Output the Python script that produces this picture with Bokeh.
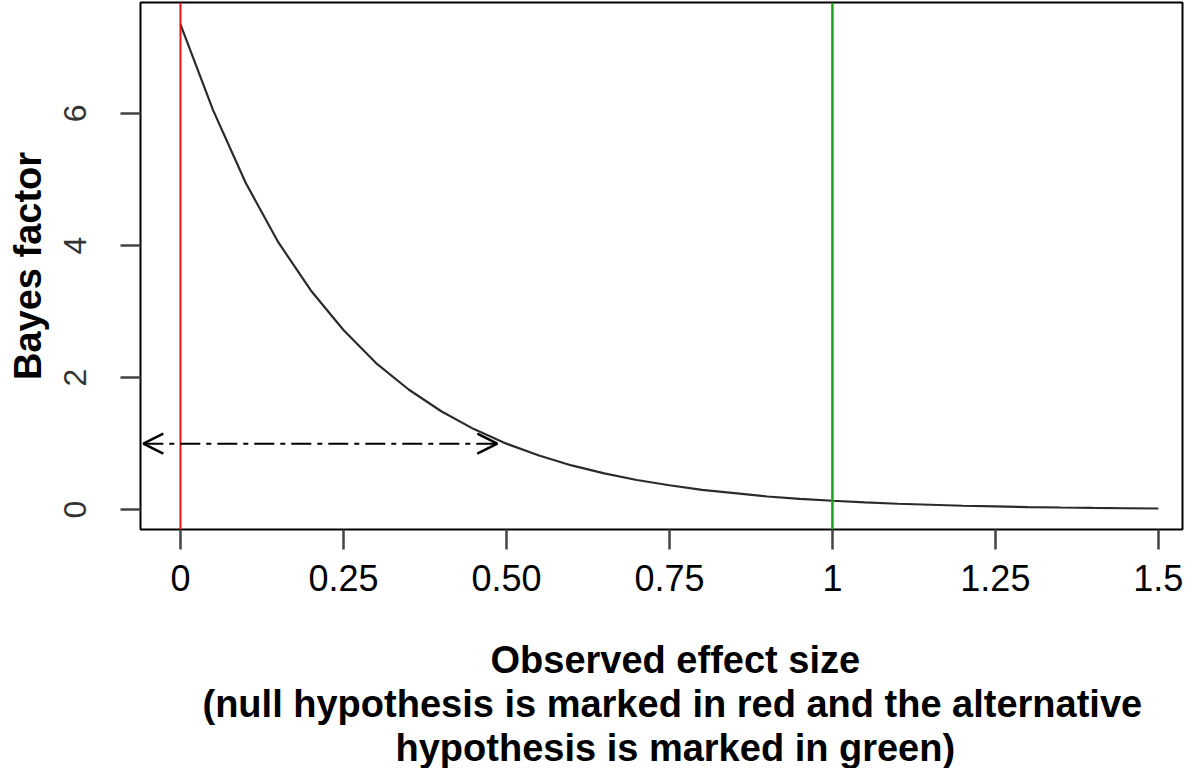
from bokeh.plotting import figure
from bokeh.models import Span, Arrow, OpenHead, FixedTicker, Title, Range1d
from bokeh.embed import file_html
from bokeh.resources import INLINE

# ---- data ----
effect_size = [0.00, 0.05, 0.10, 0.15, 0.20, 0.25, 0.30, 0.35, 0.40, 0.45, 0.50,
               0.55, 0.60, 0.65, 0.70, 0.75, 0.80, 0.85, 0.90, 0.95, 1.00,
               1.05, 1.10, 1.15, 1.20, 1.25, 1.30, 1.35, 1.40, 1.45, 1.50]
bayes_factor = [7.35, 6.05, 4.95, 4.05, 3.32, 2.72, 2.22, 1.82, 1.49, 1.22, 1.00,
                0.82, 0.67, 0.55, 0.45, 0.37, 0.30, 0.25, 0.20, 0.165, 0.135,
                0.11, 0.09, 0.075, 0.06, 0.05, 0.04, 0.033, 0.027, 0.022, 0.018]
null_hypothesis = 0.0
alt_hypothesis = 1.0
arrow_x = [-0.057, 0.486]
arrow_level = 1.0
x_ticks = [0, 0.25, 0.5, 0.75, 1.0, 1.25, 1.5]
x_tick_labels = ["0", "0.25", "0.50", "0.75", "1", "1.25", "1.5"]
y_ticks = [0, 2, 4, 6]
y_tick_labels = ["0", "2", "4", "6"]
y_label = "Bayes factor"
x_label_lines = ["Observed effect size",
                 "(null hypothesis is marked in red and the alternative",
                 "hypothesis is marked in green)"]

FONT = "Liberation Sans, Arial, Helvetica, sans-serif"

p = figure(width=1184, height=768, output_backend="svg", toolbar_location=None,
           x_range=Range1d(-0.0613, 1.537), y_range=Range1d(-0.30, 7.68),
           min_border_left=140, min_border_right=2, min_border_top=2,
           min_border_bottom=239)

p.background_fill_color = "white"
p.border_fill_color = "white"
p.outline_line_color = "black"
p.outline_line_width = 2
p.grid.visible = False

# curve
p.line(effect_size, bayes_factor, line_color="#2b2b2b", line_width=2.2)

# hypotheses
p.add_layout(Span(location=null_hypothesis, dimension="height",
                  line_color="#ee1111", line_width=2))
p.add_layout(Span(location=alt_hypothesis, dimension="height",
                  line_color="#1e9e1e", line_width=2.5))

# double arrow
p.add_layout(Arrow(start=OpenHead(size=20, line_color="black", line_width=2.5),
                   end=OpenHead(size=20, line_color="black", line_width=2.5),
                   x_start=arrow_x[0], y_start=arrow_level,
                   x_end=arrow_x[1], y_end=arrow_level,
                   line_color="black", line_width=2, line_dash="20 6 5 6"))

# x axis
xa = p.xaxis[0]
xa.ticker = FixedTicker(ticks=x_ticks)
xa.major_label_overrides = {t: l for t, l in zip(x_ticks, x_tick_labels)}
xa.axis_line_color = None
xa.major_tick_out = 20
xa.major_tick_in = 0
xa.major_tick_line_color = "#444444"
xa.major_tick_line_width = 2.5
xa.minor_tick_line_color = None
xa.major_label_text_font = FONT
xa.major_label_text_font_size = "36px"
xa.major_label_text_color = "black"
xa.major_label_standoff = 15

# y axis
ya = p.yaxis[0]
ya.ticker = FixedTicker(ticks=y_ticks)
ya.major_label_overrides = {t: l for t, l in zip(y_ticks, y_tick_labels)}
ya.axis_line_color = None
ya.major_tick_out = 20
ya.major_tick_in = 0
ya.major_tick_line_color = "#444444"
ya.major_tick_line_width = 2.5
ya.minor_tick_line_color = None
ya.major_label_orientation = "parallel"
ya.major_label_text_font = FONT
ya.major_label_text_font_size = "32px"
ya.major_label_text_color = "#333333"
ya.major_label_standoff = 34
ya.axis_label = y_label
ya.axis_label_text_font = FONT
ya.axis_label_text_font_size = "38px"
ya.axis_label_text_font_style = "bold"
ya.axis_label_text_color = "black"
ya.axis_label_standoff = 13

# spacer between tick labels and the x label block
p.add_layout(Title(text=" ", standoff=0, text_font=FONT, text_font_size="36px"), "below")

# x label lines (stacked below)
offsets = [350, 62, 255]
for line, off in zip(x_label_lines, offsets):
    p.add_layout(Title(text=line, align="left", offset=off, standoff=0,
                       text_font=FONT, text_font_size="38px",
                       text_font_style="bold", text_color="black"), "below")

open("out.html", "w").write(file_html(p, INLINE))
